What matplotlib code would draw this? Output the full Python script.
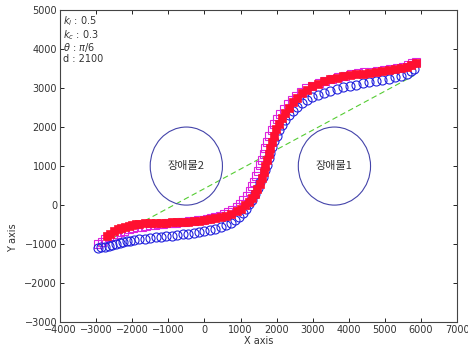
import matplotlib
matplotlib.use("Agg")
import matplotlib.pyplot as plt
from matplotlib.patches import Ellipse

# trajectory 1 (red, filled)
red_x = [-2700, -2600, -2500, -2400, -2300, -2200, -2100, -2000, -1900, -1800,
         -1650, -1500, -1350, -1200, -1050, -900, -750, -600, -450, -300,
         -150, 0, 150, 300, 450, 600, 750, 900, 1020, 1130,
         1230, 1320, 1400, 1470, 1530, 1590, 1640, 1690, 1740, 1790,
         1830, 1880, 1930, 1990, 2060, 2140, 2230, 2330, 2440, 2560,
         2690, 2830, 2980, 3140, 3310, 3480, 3660, 3840, 4020, 4200,
         4380, 4560, 4740, 4920, 5100, 5280, 5450, 5600, 5730, 5850]
red_y = [-800, -730, -670, -620, -580, -550, -525, -505, -490, -478,
         -468, -462, -458, -455, -450, -445, -440, -432, -422, -410,
         -396, -380, -360, -335, -305, -270, -225, -160, -90, -10,
         80, 180, 290, 410, 540, 690, 840, 990, 1150, 1310,
         1460, 1620, 1780, 1940, 2090, 2230, 2370, 2500, 2630, 2750,
         2860, 2960, 3040, 3110, 3170, 3220, 3260, 3300, 3330, 3350,
         3370, 3390, 3410, 3430, 3450, 3475, 3510, 3550, 3600, 3650]

# trajectory 2 (blue, open circles)
blue_x = [-2950, -2850, -2750, -2650, -2550, -2450, -2350, -2250, -2150, -2050,
          -1950, -1800, -1650, -1500, -1350, -1200, -1050, -900, -750, -600,
          -450, -300, -150, 0, 150, 300, 450, 600, 730, 850,
          960, 1060, 1150, 1240, 1330, 1410, 1480, 1550, 1610, 1670,
          1720, 1780, 1830, 1880, 1940, 2000, 2070, 2150, 2240, 2340,
          2450, 2570, 2700, 2840, 2990, 3150, 3320, 3490, 3660, 3840,
          4020, 4200, 4380, 4560, 4740, 4920, 5100, 5280, 5450, 5600,
          5710, 5800]
blue_y = [-1100, -1085, -1065, -1045, -1020, -995, -970, -950, -930, -910,
          -895, -875, -860, -845, -830, -815, -800, -785, -770, -750,
          -730, -710, -690, -665, -640, -605, -565, -515, -455, -380,
          -300, -200, -90, 20, 140, 290, 440, 590, 730, 890,
          1040, 1200, 1340, 1480, 1640, 1780, 1920, 2060, 2190, 2310,
          2420, 2520, 2610, 2690, 2760, 2820, 2880, 2930, 2980, 3020,
          3060, 3090, 3120, 3150, 3180, 3210, 3240, 3270, 3310, 3370,
          3430, 3500]

# trajectory 3 (magenta, open squares)
mag_x = [-2940, -2840, -2740, -2640, -2540, -2430, -2330, -2220, -2100, -1980,
         -1860, -1740, -1620, -1500, -1380, -1260, -1140, -1020, -900, -780,
         -660, -540, -420, -300, -180, -60, 60, 180, 300, 420,
         540, 660, 770, 900, 990, 1080, 1170, 1250, 1320, 1380,
         1440, 1490, 1540, 1590, 1640, 1690, 1740, 1800, 1860, 1930,
         2010, 2100, 2200, 2310, 2420, 2540, 2670, 2810, 2980, 3160,
         3340, 3520, 3700, 3880, 4060, 4240, 4420, 4600, 4780, 4960,
         5140, 5320, 5490, 5640, 5760, 5850]
mag_y = [-990, -940, -880, -830, -785, -740, -700, -660, -625, -595,
         -570, -550, -535, -520, -505, -490, -478, -468, -458, -450,
         -440, -430, -418, -405, -390, -372, -352, -330, -305, -275,
         -235, -180, -120, -50, 30, 130, 240, 360, 480, 600,
         740, 880, 1020, 1160, 1310, 1460, 1620, 1770, 1920, 2070,
         2210, 2340, 2460, 2580, 2690, 2800, 2900, 2990, 3060, 3120,
         3180, 3230, 3280, 3320, 3350, 3380, 3400, 3420, 3440, 3460,
         3480, 3510, 3550, 3600, 3640, 3670]

# straight line start -> goal
line_x = [-2950, 5800]
line_y = [-1050, 3320]

# obstacles: centre x, centre y, radius
obs_x = [3600, -500]
obs_y = [1000, 1000]
obs_r = [1000, 1000]
obs_names = ["장애물1", "장애물2"]

params = [r"$k_l$ : 0.5", r"$k_c$ : 0.3", r"$\theta$ : $\pi$/6", "d : 2100"]

plt.rcParams["font.family"] = ["DejaVu Sans"]
fig = plt.figure(figsize=(4.68, 3.56), dpi=100)
ax = fig.add_axes([0.128, 0.095, 0.849, 0.877])

ax.plot(line_x, line_y, "--", color="#55cc33", lw=0.8, dashes=(5, 3), zorder=1)
ax.plot(mag_x, mag_y, "s", ms=6, mfc="none", mec="#dd22dd", mew=0.8, zorder=2)
ax.plot(blue_x, blue_y, "o", ms=6.5, mfc="none", mec="#2222dd", mew=0.8, zorder=3)
ax.plot(red_x, red_y, "s", ms=5.5, mfc="#ff1030", mec="#ff1030", mew=0.5, zorder=4)

for cx, cy, r, name in zip(obs_x, obs_y, obs_r, obs_names):
    ax.add_patch(Ellipse((cx, cy), 2 * r, 2 * r, fill=False, ec="#4444aa", lw=0.8))
    ax.text(cx, cy, name, ha="center", va="center", fontsize=8, color="#333333",
            family=["Noto Sans CJK KR", "DejaVu Sans"])

for i, s in enumerate(params):
    ax.text(0.008, 0.985 - i * 0.042, s, transform=ax.transAxes, fontsize=7,
            va="top", ha="left", color="#333333")

ax.set_xlim(-4000, 7000)
ax.set_ylim(-3000, 5000)
ax.set_xticks(range(-4000, 7001, 1000))
ax.set_yticks(range(-3000, 5001, 1000))
ax.tick_params(direction="in", top=True, right=True, labelsize=7,
               labelcolor="#333333", length=3, width=0.6, pad=2)
for sp in ax.spines.values():
    sp.set_linewidth(0.8)
    sp.set_color("#444444")

ax.set_xlabel("X axis", fontsize=7, color="#333333", labelpad=1)
ax.set_ylabel("Y axis", fontsize=7, color="#333333")
ax.yaxis.set_label_coords(-0.105, 0.27)

fig.savefig("out.png", dpi=100)
